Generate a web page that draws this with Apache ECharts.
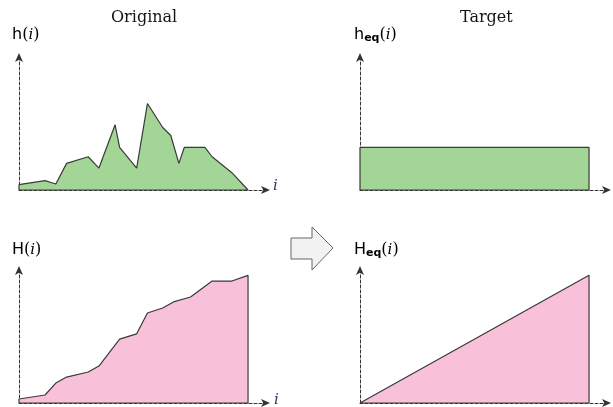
<!DOCTYPE html>
<html><head><meta charset="utf-8">
<script src="https://cdn.jsdelivr.net/npm/echarts@6/dist/echarts.min.js"></script>
<style>html,body{margin:0;padding:0;background:#fff}#c{width:613px;height:407px}</style>
</head><body><div id="c"></div>
<script>
// Original histogram h(i)
const histI = [0, 0, 29, 41, 53, 77, 89, 107, 112, 131, 143, 160, 169, 178, 184, 207, 215, 237, 255];
const histH = [0, 4, 7, 4.5, 20, 25, 16.5, 49, 32, 16.5, 65, 47, 41, 20, 32, 32, 25, 13, 0];
// Original cumulative H(i)
const cumI = [0, 0, 29, 41, 53, 77, 89, 112, 131, 143, 160, 172, 191, 215, 237, 255, 255];
const cumH = [0, 3, 6, 15, 19.5, 23.3, 27.8, 48, 52, 67.7, 71.4, 76, 79.7, 91.7, 91.7, 96, 0];
// Target equalized histogram heq(i)
const eqI = [0, 0, 255, 255];
const eqH = [0, 32, 32, 0];
// Target cumulative Heq(i)
const eqCumI = [0, 255, 255];
const eqCumH = [0, 96, 0];

const X_MAX = 275, Y_MAX = 100;
const green = '#a2d596', pink = '#f8c1d9', edge = '#3a3a3a';

function closed(xs, ys) {
  const d = xs.map((x, k) => [x, ys[k]]);
  d.push([0, 0]);
  return d;
}

const grids = [
  {left: 19, top: 57, width: 247, height: 133},
  {left: 360, top: 57, width: 247, height: 133},
  {left: 19, top: 270, width: 247, height: 133},
  {left: 360, top: 270, width: 247, height: 133}
];
const axisLine = {show: true, symbol: ['none', 'arrow'], symbolSize: [6, 9], symbolOffset: [0, 4],
  lineStyle: {color: '#333', width: 1, type: [3, 2]}};
const xAxis = grids.map((g, k) => ({type: 'value', gridIndex: k, min: 0, max: X_MAX,
  axisLine, axisTick: {show: false}, axisLabel: {show: false}, splitLine: {show: false}}));
const yAxis = grids.map((g, k) => ({type: 'value', gridIndex: k, min: 0, max: Y_MAX,
  axisLine, axisTick: {show: false}, axisLabel: {show: false}, splitLine: {show: false}}));

function area(k, data, fill) {
  return {type: 'line', xAxisIndex: k, yAxisIndex: k, data, symbol: 'none', clip: false,
    lineStyle: {color: edge, width: 1.2}, areaStyle: {color: fill, opacity: 1}, z: 3};
}

const mathRich = {
  s: {fontFamily: 'DejaVu Sans', fontSize: 16, color: '#1a1a28'},
  sub: {fontFamily: 'DejaVu Sans', fontSize: 11, fontWeight: 'bold', color: '#1a1a28', padding: [6, 0, 0, 0]},
  p: {fontFamily: 'DejaVu Serif', fontSize: 16, color: '#1a1a28'},
  it: {fontFamily: 'DejaVu Serif', fontStyle: 'italic', fontSize: 15, color: '#1a1a28'}
};
function lbl(x, y, txt) {
  return {type: 'text', left: x, top: y, style: {text: txt, rich: mathRich}};
}

const option = {
  animation: false,
  grid: grids,
  xAxis, yAxis,
  series: [
    area(0, closed(histI, histH), green),
    area(1, closed(eqI, eqH), green),
    area(2, closed(cumI, cumH), pink),
    area(3, closed(eqCumI, eqCumH), pink)
  ],
  graphic: [
    {type: 'text', left: 111, top: 10, style: {text: 'Original', font: '16px "DejaVu Serif"', fill: '#151515'}},
    {type: 'text', left: 460, top: 10, style: {text: 'Target', font: '16px "DejaVu Serif"', fill: '#151515'}},
    lbl(12, 27, '{s|h}{p|(}{it|i}{p|)}'),
    lbl(354, 27, '{s|h}{sub|eq}{p|(}{it|i}{p|)}'),
    lbl(12, 242, '{s|H}{p|(}{it|i}{p|)}'),
    lbl(354, 242, '{s|H}{sub|eq}{p|(}{it|i}{p|)}'),
    {type: 'text', left: 273, top: 179, style: {text: 'i', font: 'italic 15px "DejaVu Serif"', fill: '#2a3a6a'}},
    {type: 'text', left: 274, top: 393, style: {text: 'i', font: 'italic 15px "DejaVu Serif"', fill: '#2a3a6a'}},
    {type: 'polygon', shape: {points: [[291, 238], [312, 238], [312, 227], [333, 248], [312, 270], [312, 259], [291, 259]]},
      style: {fill: '#f2f2f2', stroke: '#666', lineWidth: 1}}
  ]
};
echarts.init(document.getElementById('c'), null, {renderer: 'canvas'}).setOption(option);
</script></body></html>
